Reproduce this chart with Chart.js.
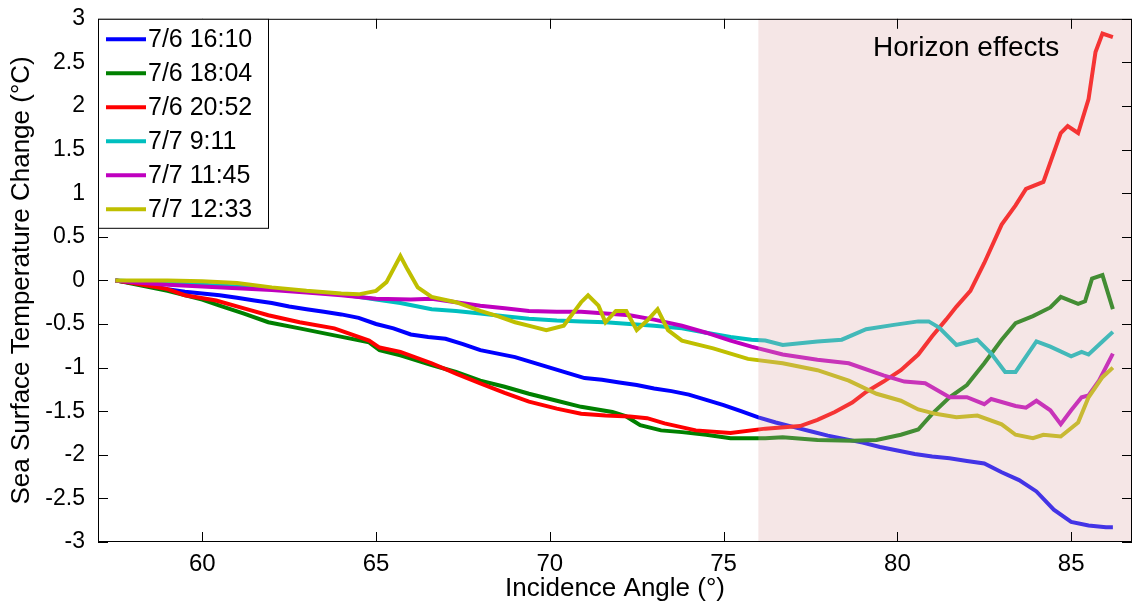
<!DOCTYPE html>
<html>
<head>
<meta charset="utf-8">
<script src="https://cdn.jsdelivr.net/npm/chart.js@4.4.0/dist/chart.umd.min.js"></script>
<style>
  body { margin: 0; background: #fff; }
  canvas { display: block; }
</style>
</head>
<body>
<canvas id="sstChart" width="1133" height="605"></canvas>
<script>
// Sea surface temperature change vs incidence angle, six runs

const seriesLabels = ['7/6 16:10', '7/6 18:04', '7/6 20:52', '7/7 9:11', '7/7 11:45', '7/7 12:33'];
const seriesColors = ['#0000ff', '#008000', '#ff0000', '#00bfbf', '#bf00bf', '#bfbf00'];

// 7/6 16:10
const blueAngle = [57.5,58,58.5,59,59.5,60,60.5,61,61.5,62,62.5,63,63.5,64,64.5,65,65.5,66,66.5,67,67.5,68,68.5,69,69.5,70,70.5,71,71.5,72,72.5,73,73.5,74,74.5,75,75.5,76,76.5,77,77.5,78,78.5,79,79.5,80,80.5,81,81.5,82,82.5,83,83.5,84,84.5,85,85.5,86,86.2];
const blueTemp = [0,-0.03,-0.06,-0.1,-0.13,-0.15,-0.17,-0.2,-0.23,-0.26,-0.3,-0.33,-0.36,-0.39,-0.43,-0.5,-0.55,-0.62,-0.65,-0.67,-0.73,-0.8,-0.84,-0.88,-0.94,-1.0,-1.06,-1.12,-1.14,-1.17,-1.2,-1.24,-1.27,-1.31,-1.37,-1.43,-1.5,-1.57,-1.63,-1.68,-1.73,-1.78,-1.82,-1.86,-1.91,-1.95,-1.99,-2.02,-2.04,-2.07,-2.1,-2.2,-2.29,-2.42,-2.63,-2.77,-2.81,-2.83,-2.83];

// 7/6 18:04
const greenAngle = [57.5,58,59,60,60.5,61.2,61.9,62.8,63.8,64.8,65.1,65.7,66.6,67.3,68,68.7,69.4,70.2,70.9,71.8,72.2,72.6,73.2,73.8,74.5,75.2,76.2,76.7,77.7,78.7,79.4,80.1,80.6,81,81.5,82,82.5,83,83.4,83.9,84.4,84.7,85.2,85.4,85.6,85.9,86.2];
const greenTemp = [0,-0.04,-0.12,-0.22,-0.29,-0.38,-0.48,-0.55,-0.63,-0.71,-0.8,-0.86,-0.97,-1.05,-1.15,-1.22,-1.3,-1.38,-1.45,-1.51,-1.56,-1.66,-1.72,-1.74,-1.77,-1.81,-1.81,-1.8,-1.83,-1.84,-1.83,-1.77,-1.71,-1.53,-1.34,-1.2,-0.95,-0.68,-0.49,-0.41,-0.31,-0.19,-0.27,-0.24,0.02,0.06,-0.33];

// 7/6 20:52
const redAngle = [57.5,58,59,59.5,60.4,61.2,61.9,62.8,63.8,64.8,65.1,65.7,66.6,67.3,68,68.7,69.4,70.2,70.9,71.6,72.3,72.8,73.3,74.2,75.2,76.2,77.2,77.7,78.2,78.7,79.1,79.6,80.1,80.6,81,81.4,81.7,82.1,82.5,83,83.4,83.7,84.2,84.7,84.9,85.2,85.5,85.7,85.9,86.2];
const redTemp = [0,-0.03,-0.1,-0.17,-0.23,-0.32,-0.4,-0.48,-0.55,-0.69,-0.77,-0.82,-0.95,-1.07,-1.18,-1.29,-1.39,-1.47,-1.53,-1.55,-1.56,-1.58,-1.64,-1.72,-1.75,-1.7,-1.67,-1.6,-1.51,-1.4,-1.28,-1.16,-1.03,-0.85,-0.64,-0.45,-0.3,-0.12,0.2,0.64,0.86,1.05,1.13,1.69,1.77,1.69,2.08,2.62,2.83,2.79];

// 7/7 9:11
const cyanAngle = [57.5,58,59,60,61,62,63,64,65,65.7,66.6,67.3,68,68.7,69.4,70.2,70.9,71.6,72.3,73,73.8,74.5,75.2,75.8,76.2,76.7,77.7,78.4,79.1,79.9,80.6,80.9,81.2,81.7,82,82.3,82.7,83.1,83.4,84,84.4,85,85.3,85.5,85.9,86.2];
const cyanTemp = [0,-0.01,-0.03,-0.05,-0.07,-0.1,-0.13,-0.16,-0.22,-0.26,-0.33,-0.35,-0.38,-0.41,-0.44,-0.46,-0.47,-0.48,-0.5,-0.52,-0.55,-0.6,-0.65,-0.68,-0.69,-0.74,-0.7,-0.68,-0.56,-0.51,-0.47,-0.47,-0.54,-0.74,-0.71,-0.68,-0.84,-1.05,-1.05,-0.7,-0.76,-0.87,-0.82,-0.85,-0.7,-0.59];

// 7/7 11:45
const magentaAngle = [57.5,58,59,60,61,62,63,64,65,66,66.6,67.3,68,68.7,69.4,70.2,70.9,71.6,72.3,73,73.8,74.5,75.2,75.8,76.7,77.7,78.6,79.6,80.2,80.8,81.5,82,82.5,82.7,83.4,83.7,84,84.4,84.7,85,85.3,85.5,85.8,86.2];
const magentaTemp = [0,-0.02,-0.05,-0.07,-0.09,-0.11,-0.14,-0.17,-0.21,-0.22,-0.21,-0.25,-0.29,-0.32,-0.35,-0.36,-0.36,-0.38,-0.4,-0.45,-0.52,-0.6,-0.69,-0.76,-0.85,-0.91,-0.95,-1.09,-1.16,-1.18,-1.34,-1.34,-1.42,-1.36,-1.44,-1.46,-1.38,-1.49,-1.65,-1.49,-1.34,-1.32,-1.15,-0.84];

// 7/7 12:33
const yellowAngle = [57.5,58,59,60,61,62,63,64,64.5,65,65.3,65.7,65.9,66.2,66.6,67.3,68,68.5,69,69.5,69.9,70.4,70.9,71.1,71.4,71.6,71.9,72.2,72.5,72.8,73.1,73.4,73.8,74.7,75.7,76.7,77.7,78.6,79.4,80.1,80.6,81.1,81.7,82.3,83,83.4,83.9,84.2,84.7,85.2,85.5,85.9,86.2];
const yellowTemp = [0,0,0,-0.01,-0.03,-0.08,-0.12,-0.15,-0.16,-0.12,-0.02,0.28,0.13,-0.08,-0.19,-0.25,-0.35,-0.41,-0.48,-0.53,-0.57,-0.52,-0.25,-0.17,-0.29,-0.48,-0.35,-0.35,-0.57,-0.46,-0.33,-0.57,-0.69,-0.78,-0.9,-0.95,-1.03,-1.15,-1.3,-1.38,-1.48,-1.53,-1.57,-1.55,-1.65,-1.77,-1.81,-1.77,-1.79,-1.63,-1.34,-1.11,-1.0];

const xTickValues = [60, 65, 70, 75, 80, 85];
const yTickValues = [-3, -2.5, -2, -1.5, -1, -0.5, 0, 0.5, 1, 1.5, 2, 2.5, 3];
const horizonStart = 76;

const angles = [blueAngle, greenAngle, redAngle, cyanAngle, magentaAngle, yellowAngle];
const temps = [blueTemp, greenTemp, redTemp, cyanTemp, magentaTemp, yellowTemp];

const FONT = '"Liberation Sans", Arial, sans-serif';

// shaded region, frame with inward ticks, and the boxed legend
const overlayPlugin = {
    id: 'overlay',
    afterDatasetsDraw(chart) {
        const { ctx, chartArea: a, scales: { x, y } } = chart;
        ctx.save();

        // horizon region
        const x0 = x.getPixelForValue(horizonStart);
        ctx.fillStyle = 'rgba(222,172,172,0.3)';
        ctx.fillRect(x0, a.top, a.right - x0, a.bottom - a.top);
        ctx.fillStyle = '#000';
        ctx.font = '28px ' + FONT;
        ctx.textBaseline = 'middle';
        ctx.textAlign = 'left';
        ctx.fillText('Horizon effects', x.getPixelForValue(79.3), y.getPixelForValue(2.66));

        // axes box
        ctx.strokeStyle = '#000';
        ctx.lineWidth = 1;
        ctx.strokeRect(a.left + 0.5, a.top + 0.5, a.right - a.left - 1, a.bottom - a.top - 1);

        // inward ticks
        ctx.beginPath();
        xTickValues.forEach(v => {
            const px = Math.round(x.getPixelForValue(v)) + 0.5;
            ctx.moveTo(px, a.bottom); ctx.lineTo(px, a.bottom - 10);
            ctx.moveTo(px, a.top); ctx.lineTo(px, a.top + 10);
        });
        yTickValues.forEach(v => {
            const py = Math.round(y.getPixelForValue(v)) + 0.5;
            ctx.moveTo(a.left, py); ctx.lineTo(a.left + 10, py);
            ctx.moveTo(a.right, py); ctx.lineTo(a.right - 10, py);
        });
        ctx.stroke();

        // legend
        const lx = a.left, ly = a.top, lw = 170, rowH = 34;
        const lh = 5 + rowH * seriesLabels.length;
        ctx.fillStyle = '#fff';
        ctx.fillRect(lx, ly, lw, lh);
        ctx.strokeRect(lx + 0.5, ly + 0.5, lw, lh);
        ctx.font = '25px ' + FONT;
        seriesLabels.forEach((label, i) => {
            const ry = ly + 20.5 + i * rowH;
            ctx.strokeStyle = seriesColors[i];
            ctx.lineWidth = 4;
            ctx.beginPath();
            ctx.moveTo(lx + 8, ry); ctx.lineTo(lx + 48, ry);
            ctx.stroke();
            ctx.fillStyle = '#000';
            ctx.fillText(label, lx + 50, ry + 1);
        });
        ctx.restore();
    }
};

const ctx = document.getElementById('sstChart').getContext('2d');

const sstChart = new Chart(ctx, {
    type: 'line',
    data: {
        datasets: seriesLabels.map((label, i) => ({
            label: label,
            data: angles[i].map((a, j) => ({ x: a, y: temps[i][j] })),
            borderColor: seriesColors[i],
            borderWidth: 4,
            pointRadius: 0,
            tension: 0,
            fill: false,
            order: seriesLabels.length - i // later runs drawn on top
        }))
    },
    options: {
        responsive: false,
        animation: false,
        layout: { padding: { top: 17, right: 1, left: 0, bottom: 0 } },
        plugins: {
            legend: { display: false },
            tooltip: { enabled: false }
        },
        scales: {
            x: {
                type: 'linear',
                min: 57,
                max: 86.75,
                grid: { display: false },
                border: { display: false },
                afterBuildTicks: s => { s.ticks = xTickValues.map(v => ({ value: v })); },
                afterFit: s => { s.height = 63; },
                ticks: {
                    color: '#000',
                    font: { family: FONT, size: 24 },
                    padding: 0,
                    maxRotation: 0,
                    callback: v => String(v)
                },
                title: {
                    display: true,
                    text: 'Incidence Angle (°)',
                    color: '#000',
                    font: { family: FONT, size: 26 },
                    padding: { top: 0, bottom: 1 }
                }
            },
            y: {
                min: -3,
                max: 3,
                grid: { display: false },
                border: { display: false },
                afterBuildTicks: s => { s.ticks = yTickValues.map(v => ({ value: v })); },
                afterFit: s => { s.width = 98; },
                ticks: {
                    color: '#000',
                    font: { family: FONT, size: 23 },
                    padding: 5,
                    callback: v => String(v)
                },
                title: {
                    display: true,
                    text: 'Sea Surface Temperature Change (°C)',
                    color: '#000',
                    font: { family: FONT, size: 26 },
                    padding: { top: 6, bottom: 0 }
                }
            }
        }
    },
    plugins: [overlayPlugin]
});
</script>
</body>
</html>
